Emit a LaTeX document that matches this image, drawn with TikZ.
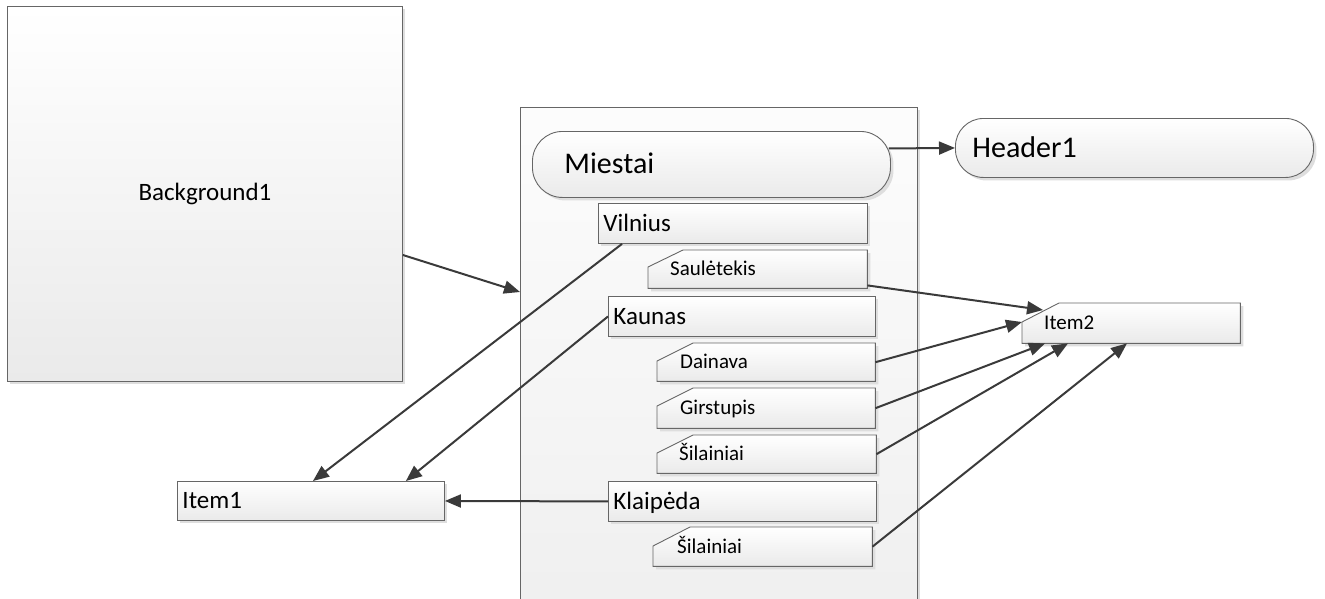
\documentclass[tikz,border=0pt]{standalone}
\usepackage{fontspec}
\setmainfont{Carlito}
\usetikzlibrary{arrows.meta,shadows,calc}
\pgfdeclarelayer{back}
\pgfdeclarelayer{mid}
\pgfsetlayers{back,mid,main}
\definecolor{edge}{HTML}{666666}
\definecolor{wire}{HTML}{3A3A3A}
\definecolor{shade}{HTML}{EAEAEA}
\definecolor{shadowc}{HTML}{DEDEDE}
\tikzset{
  panel/.style={draw=edge, line width=0.9pt, top color=white, bottom color=shade,
    drop shadow={shadow xshift=3pt, shadow yshift=-3pt, fill=shadowc, opacity=1}},
  boxtext/.style={anchor=north west, inner ysep=0pt, align=left},
  fbig/.style={font=\fontsize{30}{36}\selectfont, text height=22pt, text depth=3pt},
  fmid/.style={font=\fontsize{25}{30}\selectfont, text height=19pt, text depth=3pt},
  fsmall/.style={font=\fontsize{21}{25}\selectfont, text height=16pt, text depth=2.5pt},
  wirearrow/.style={draw=wire, line width=2pt, -{Triangle[length=16pt,width=13pt]}},
}
% outline of a box with its top-left corner cut off
\newcommand\cutcorner[3]{%
  \path[panel] ([xshift=#2]#1.north west) -- (#1.north east) -- (#1.south east)
    -- (#1.south west) -- ([yshift=-#3]#1.north west) -- cycle;}
\begin{document}
\begin{tikzpicture}[x=1pt, y=-1pt]
\useasboundingbox (0,0) rectangle (1325,598);

% large frames
\node[panel, anchor=north west, inner sep=0pt, minimum width=395pt, minimum height=375pt,
  font=\fontsize{25}{30}\selectfont] (bg) at (7,6) {Background1};
\begin{pgfonlayer}{back}
\node[panel, top color=black!1, bottom color=black!6, anchor=north west, inner sep=0pt,
  minimum width=397pt, minimum height=495pt] (cont) at (520,107) {};
\end{pgfonlayer}

% headers
\node[panel, rounded corners=30pt, boxtext, fbig, minimum height=66pt, text width=294pt,
  inner xsep=32pt] (miestai) at (532,131) {Miestai};
\node[panel, rounded corners=28pt, boxtext, fbig, minimum height=59pt, text width=324pt,
  inner xsep=17pt] (header) at (955,118) {Header1};

% city boxes
\node[panel, boxtext, fmid, minimum height=40pt, text width=259pt, inner xsep=5pt]
  (vilnius) at (598,203) {Vilnius};
\node[panel, boxtext, fmid, minimum height=40pt, text width=257pt, inner xsep=5pt]
  (kaunas) at (608,296) {Kaunas};
\node[panel, boxtext, fmid, minimum height=40pt, text width=258pt, inner xsep=5pt]
  (klaipeda) at (608,481) {Klaipėda};
\node[panel, boxtext, fmid, minimum height=39pt, text width=257pt, inner xsep=5pt]
  (item1) at (177,481) {Item1};

% district boxes (cut corner outlines drawn below the text)
\node[boxtext, fsmall, minimum height=38pt, text width=175pt, inner xsep=22pt]
  (saul) at (648,250) {Saulėtekis};
\node[boxtext, fsmall, minimum height=38pt, text width=172pt, inner xsep=23pt]
  (dainava) at (657,343) {Dainava};
\node[boxtext, fsmall, minimum height=40pt, text width=172pt, inner xsep=23pt]
  (girstupis) at (657,388) {Girstupis};
\node[boxtext, fsmall, minimum height=38pt, text width=175pt, inner xsep=22pt]
  (sil1) at (657,435) {Šilainiai};
\node[boxtext, fsmall, minimum height=39pt, text width=171pt, inner xsep=24pt]
  (sil2) at (653,527) {Šilainiai};
\node[boxtext, fsmall, minimum height=40pt, text width=174pt, inner xsep=22pt]
  (item2) at (1022,303) {Item2};
\begin{pgfonlayer}{mid}
\cutcorner{saul}{35pt}{17pt}
\cutcorner{dainava}{36pt}{18pt}
\cutcorner{girstupis}{36pt}{18pt}
\cutcorner{sil1}{36pt}{18pt}
\cutcorner{sil2}{37pt}{19pt}
\cutcorner{item2}{37pt}{19pt}
\end{pgfonlayer}

% connectors
\draw[wirearrow] ($(bg.north east)+(0,249)$) -- ($(cont.north west)+(0,185)$);
\draw[wirearrow] ($(miestai.east)+(-2,-16)$) -- (header.west);
\draw[wirearrow] ($(vilnius.south west)+(24,0)$) -- ($(item1.north)+(2,0)$);
\draw[wirearrow] (kaunas.west) -- ($(item1.north east)+(-39,0)$);
\draw[wirearrow] (klaipeda.west) -- (item1.east);
\draw[wirearrow] ($(saul.south east)+(0,-3)$) -- ($(item2.north west)+(21,7)$);
\draw[wirearrow] (dainava.east) -- ($(item2.north west)+(0,19)$);
\draw[wirearrow] (girstupis.east) -- ($(item2.south west)+(23,0)$);
\draw[wirearrow] (sil1.east) -- ($(item2.south west)+(46,0)$);
\draw[wirearrow] (sil2.east) -- ($(item2.south west)+(105,0)$);
\end{tikzpicture}
\end{document}
